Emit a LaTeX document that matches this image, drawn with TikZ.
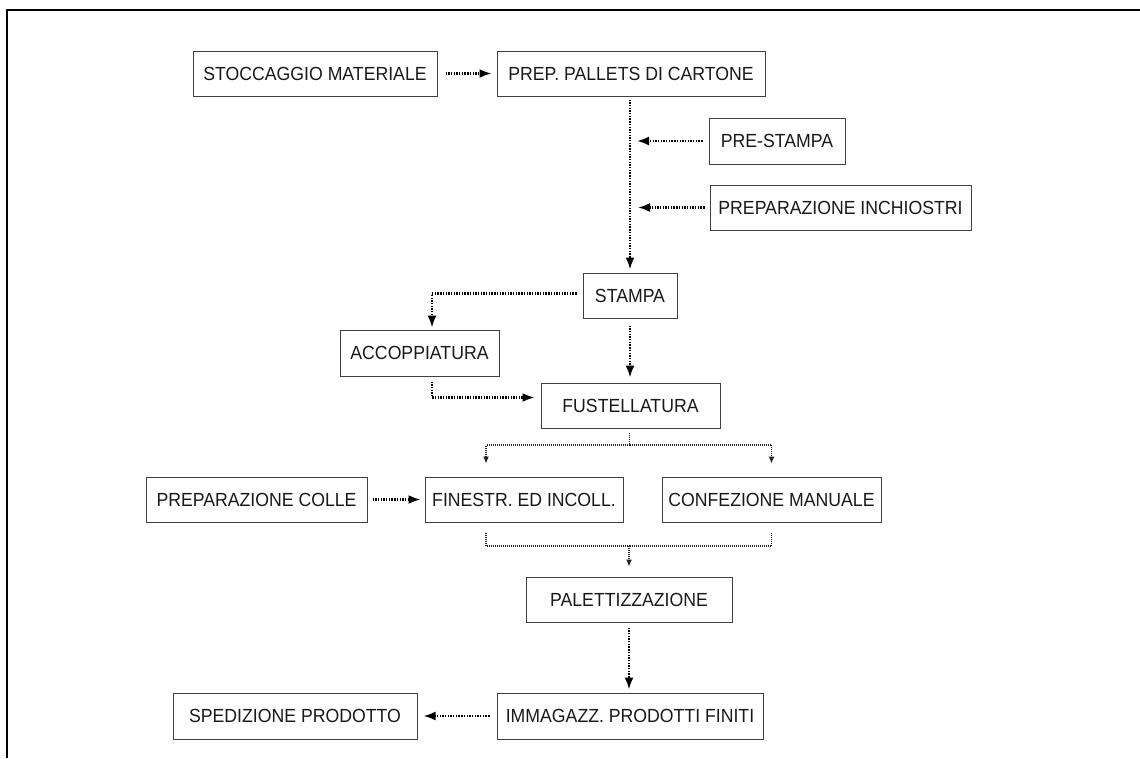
\documentclass[tikz,border=0pt]{standalone}
\usepackage{fontspec}
\setmainfont[FakeStretch=0.93]{Liberation Sans}
\usetikzlibrary{arrows.meta}
\tikzset{
  box/.style={draw=black!75, line width=1pt, inner sep=0pt, text=black!90,
    font=\fontsize{19}{22}\selectfont, anchor=center},
  flow/.style={draw=black, line width=2.1pt, dash pattern=on 1.4pt off 1.3pt,
    -{Latex[length=12pt,width=9pt]}},
  branch/.style={draw=black!85, line width=1.1pt, dash pattern=on 1pt off 1pt},
  barrow/.style={branch, -{Latex[length=7pt,width=6pt]}},
  frame/.style={draw=black, line width=2.5pt}
}
\begin{document}
\begin{tikzpicture}[x=1pt,y=-1pt]
\useasboundingbox (0,0) rectangle (1140,758);
\draw[frame] (1140,10) -- (7,10) -- (7,758);

\node[box, minimum width=244pt, minimum height=45pt] (sto) at (315,73.5) {STOCCAGGIO MATERIALE};
\node[box, minimum width=268pt, minimum height=45pt] (prep) at (631,73.5) {PREP. PALLETS DI CARTONE};
\node[box, minimum width=136pt, minimum height=46pt] (pre) at (777,141) {PRE-STAMPA};
\node[box, minimum width=261pt, minimum height=45pt] (inch) at (840.5,207.5) {PREPARAZIONE INCHIOSTRI};
\node[box, minimum width=94pt, minimum height=45pt] (stampa) at (630,295.5) {STAMPA};
\node[box, minimum width=159pt, minimum height=46pt] (acc) at (419.5,353) {ACCOPPIATURA};
\node[box, minimum width=179pt, minimum height=45pt] (fust) at (630.5,405.5) {FUSTELLATURA};
\node[box, minimum width=221pt, minimum height=45pt] (colle) at (256.5,499.5) {PREPARAZIONE COLLE};
\node[box, minimum width=198pt, minimum height=45pt] (fin) at (524,499.5) {FINESTR. ED INCOLL.};
\node[box, minimum width=219pt, minimum height=45pt] (conf) at (771.5,499.5) {CONFEZIONE MANUALE};
\node[box, minimum width=206pt, minimum height=45pt] (pal) at (629,599.5) {PALETTIZZAZIONE};
\node[box, minimum width=266pt, minimum height=46pt] (imm) at (630,716) {IMMAGAZZ. PRODOTTI FINITI};
\node[box, minimum width=244pt, minimum height=46pt] (sped) at (295,716) {SPEDIZIONE PRODOTTO};

% top row
\draw[flow, shorten <=8pt, shorten >=5pt] (sto) -- (prep);
% main vertical
\draw[flow, shorten <=3pt, shorten >=3pt] ([xshift=-1pt]prep.south) -- (stampa.north);
\draw[flow, shorten <=6pt, shorten >=7pt] (pre.west) -- (pre.west -| stampa.north);
\draw[flow, shorten <=5pt, shorten >=8pt] (inch.west) -- (inch.west -| stampa.north);
% stampa -> accoppiatura
\draw[flow, shorten <=6pt, shorten >=2pt] ([yshift=2pt]stampa.west) -| ([xshift=12.5pt]acc.north);
% stampa -> fustellatura
\draw[flow, shorten <=7pt, shorten >=5pt] (stampa.south) -- (stampa.south |- fust.north);
% accoppiatura -> fustellatura
\draw[flow, shorten <=5pt, shorten >=6pt] ([xshift=12.5pt]acc.south) |- ([yshift=8pt]fust.west);
% fustellatura branches
\coordinate (fb) at (629.5,445);
\draw[branch, shorten <=4pt] (fust.south -| fb) -- (fb);
\draw[barrow, shorten >=13pt] (fb) -| ([xshift=-38pt]fin.north);
\draw[barrow, shorten >=13pt] (fb) -| (conf.north);
% colle -> finestr
\draw[flow, shorten <=5pt, shorten >=4pt] (colle) -- (fin);
% merge
\coordinate (mb) at (629,546);
\draw[branch, shorten <=10pt] ([xshift=-38pt]fin.south) |- (mb);
\draw[branch, shorten <=10pt] (conf.south) |- (mb);
\draw[barrow, shorten >=10pt] (mb) -- (mb |- pal.north);
% palettizzazione -> immagazz
\draw[flow, shorten <=5pt, shorten >=3pt] (pal.south) -- (pal.south |- imm.north);
% immagazz -> spedizione
\draw[flow, shorten <=7pt, shorten >=6pt] (imm) -- (sped);
\end{tikzpicture}
\end{document}
